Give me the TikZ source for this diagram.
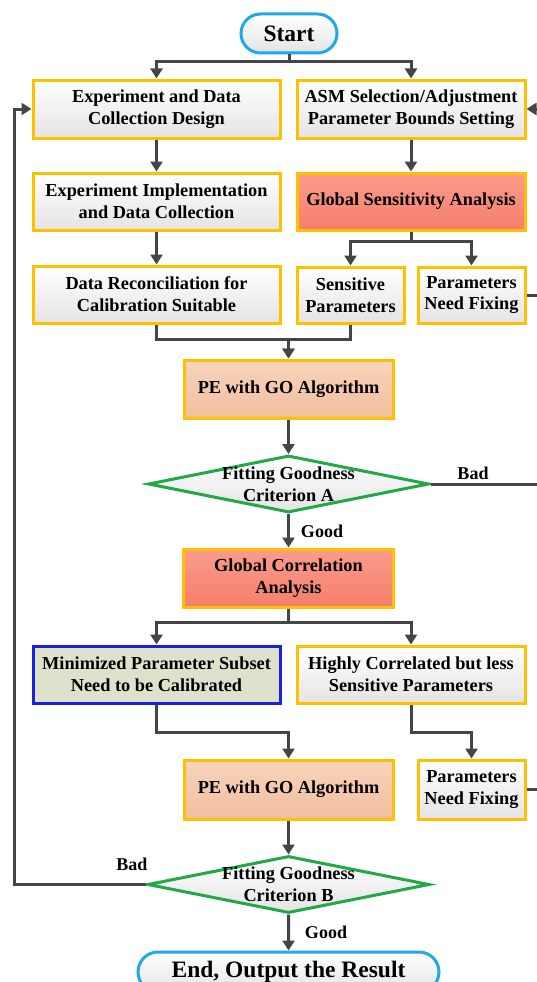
\documentclass[tikz,border=0pt]{standalone}
\usepackage{fontspec}
\setmainfont{Liberation Serif}
\usetikzlibrary{arrows.meta,shapes.geometric,shapes.misc}
\definecolor{bordY}{HTML}{FFC000}
\definecolor{bordB}{HTML}{1A22E0}
\definecolor{bordG}{HTML}{22A846}
\definecolor{bordC}{HTML}{20A8E8}
\definecolor{lineC}{HTML}{454545}
\definecolor{grayBot}{HTML}{E4E4E4}
\definecolor{redTop}{HTML}{FB9C8C}
\definecolor{redBot}{HTML}{F57E6C}
\definecolor{peTop}{HTML}{F9D4BC}
\definecolor{peBot}{HTML}{F0BE9E}
\definecolor{minFill}{HTML}{DCE2CC}
\tikzset{
  boxtext/.style={font=\bfseries\fontsize{18.3}{21.7}\selectfont, align=center},
  graybox/.style={boxtext, rectangle, draw=bordY, line width=3pt, inner sep=0pt, top color=white, bottom color=grayBot},
  redbox/.style={boxtext, rectangle, draw=bordY, line width=3pt, inner sep=0pt, top color=redTop, bottom color=redBot},
  pebox/.style={boxtext, rectangle, draw=bordY, line width=3pt, inner sep=0pt, top color=peTop, bottom color=peBot},
  minbox/.style={boxtext, rectangle, draw=bordB, line width=3pt, inner sep=0pt, fill=minFill},
  decide/.style={diamond, draw=bordG, line width=3pt, inner sep=0pt, top color=white, bottom color=grayBot},
  term/.style={rounded rectangle, draw=bordC, line width=3pt, inner sep=0pt, top color=white, bottom color=grayBot, font=\bfseries\fontsize{23.5}{26}\selectfont},
  lbl/.style={font=\bfseries\fontsize{18}{20}\selectfont, inner sep=0pt},
  conn/.style={draw=lineC, line width=3pt},
  arr/.style={conn, -{Triangle[length=10pt,width=12pt]}},
}
\begin{document}
\begin{tikzpicture}[x=1pt,y=-1pt]
\useasboundingbox (0,0) rectangle (536,982);
% nodes
\node[term, minimum width=96, minimum height=39] (start) at (289,33.5) {Start};
\node[graybox, minimum width=247, minimum height=58] (b1) at (156.5,109) {Experiment and Data\\Collection Design};
\node[graybox, minimum width=228, minimum height=58] (b2) at (411,109) {ASM Selection/Adjustment\\Parameter Bounds Setting};
\node[graybox, minimum width=247, minimum height=57] (b3) at (156.5,201.5) {Experiment Implementation\\and Data Collection};
\node[redbox, minimum width=228, minimum height=57] (gsa) at (411,201.5) {Global Sensitivity Analysis};
\node[graybox, minimum width=247, minimum height=57] (b4) at (156.5,294.5) {Data Reconciliation for\\Calibration Suitable};
\node[graybox, minimum width=107, minimum height=56] (sp) at (350.5,295) {Sensitive\\Parameters};
\node[graybox, minimum width=107, minimum height=56] (pnf1) at (471.5,295) {Parameters\\Need Fixing};
\node[pebox, minimum width=209, minimum height=58] (pe1) at (288.5,389) {PE with GO Algorithm};
\node[decide, minimum width=281, minimum height=57] (dA) at (288.5,484) {};
\node[boxtext, inner sep=0pt] (dAt) at (288.5,484) {Fitting Goodness\\Criterion A};
\node[redbox, minimum width=210, minimum height=58] (gca) at (288.5,578) {Global Correlation\\Analysis};
\node[minbox, minimum width=247, minimum height=57] (min) at (156.5,674.5) {Minimized Parameter Subset\\Need to be Calibrated};
\node[graybox, minimum width=228, minimum height=57] (hc) at (411,674.5) {Highly Correlated but less\\Sensitive Parameters};
\node[pebox, minimum width=209, minimum height=59] (pe2) at (288.5,789.5) {PE with GO Algorithm};
\node[graybox, minimum width=107, minimum height=59] (pnf2) at (471.5,789.5) {Parameters\\Need Fixing};
\node[decide, minimum width=282, minimum height=57] (dB) at (288.5,884.5) {};
\node[boxtext, inner sep=0pt] (dBt) at (288.5,884.5) {Fitting Goodness\\Criterion B};
\node[term, minimum width=301, minimum height=40] (end) at (288.5,972) {End, Output the Result};
% labels
\node[lbl] (badA) at (473,473) {Bad};
\node[lbl] (goodA) at (322,531) {Good};
\node[lbl] (badB) at (132,864) {Bad};
\node[lbl] (goodB) at (326,932) {Good};
% helper coordinates
\coordinate (lft) at (14,0);
\coordinate (rgt) at (538,0);
% connectors
\draw[arr] (start.south) -- ++(0,7) -| (b1.north);
\draw[arr] (start.south) -- ++(0,7) -| (b2.north);
\draw[arr] (b1) -- (b3);
\draw[arr] (b3) -- (b4);
\draw[arr] (b2) -- (gsa);
\draw[arr] (gsa.south) -- ++(0,10) -| (sp.north);
\draw[arr] (gsa.south) -- ++(0,10) -| (pnf1.north);
\draw[arr] (b4.south) -- ++(0,15) -| (pe1.north);
\draw[arr] (sp.south) -- ++(0,15) -| (pe1.north);
\draw[arr] (pe1) -- (dA);
\draw[arr] (dA) -- (gca);
\draw[arr] (gca.south) -- ++(0,14) -| (min.north);
\draw[arr] (gca.south) -- ++(0,14) -| (hc.north);
\draw[arr] (min.south) -- ++(0,28) -| (pe2.north);
\draw[arr] (hc.south) -- ++(0,28) -| (pnf2.north);
\draw[arr] (pe2) -- (dB);
\draw[arr] (dB) -- (end);
\draw[arr] (dB.west) -- (lft |- dB.west) -- (lft |- b1.west) -- (b1.west);
\draw[conn] (pnf1.east) -- (rgt |- pnf1.east);
\draw[conn] (dA.east) -- (rgt |- dA.east);
\draw[arr] (pnf2.east) -- (rgt |- pnf2.east) -- (rgt |- b2.east) -- (b2.east);
\end{tikzpicture}
\end{document}
